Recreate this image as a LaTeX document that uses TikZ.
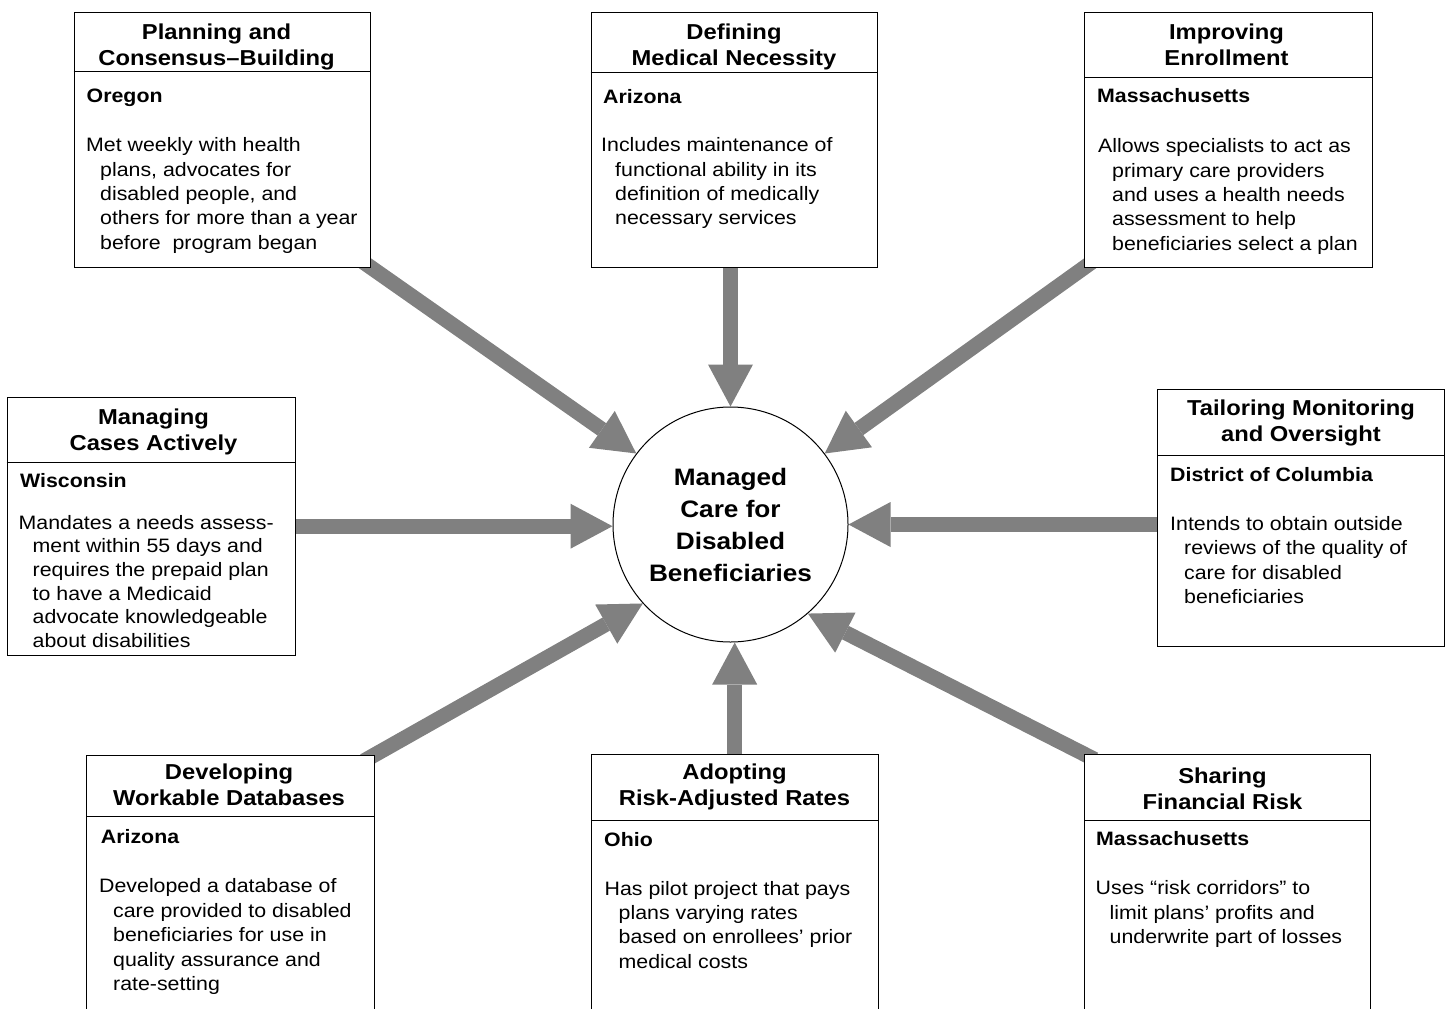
\documentclass[tikz,border=0pt]{standalone}
\usepackage{fontspec}
\setmainfont{Liberation Sans}[FakeStretch=1.1]
\usetikzlibrary{arrows.meta}
\pgfdeclarelayer{back}
\pgfsetlayers{back,main}
\newcommand{\indline}{\hspace*{14pt}}

\tikzset{
  card/.style={draw, line width=1pt, fill=white, anchor=north west, inner sep=0pt},
  opencard/.style={fill=white, anchor=north west, inner sep=0pt},
  divider/.style={line width=1pt},
  heading/.style={anchor=north, inner sep=0pt, align=center, font=\fontsize{21.6}{26.3}\selectfont\bfseries},
  state/.style={anchor=base west, inner sep=0pt, font=\fontsize{19.4}{24.3}\selectfont\bfseries},
  blurb/.style={anchor=north west, inner sep=0pt, align=left, font=\fontsize{19.4}{24.3}\selectfont},
  hub/.style={circle, draw, line width=1pt, fill=white, minimum size=235pt, inner sep=0pt, align=center,
    font=\fontsize{23.8}{32}\selectfont\bfseries},
  feed/.style={draw=black!50, line width=15pt, shorten <=-12pt,
    -{Triangle[length=42pt, width=45pt, line width=0pt]}}
}

\begin{document}
\begin{tikzpicture}[x=1pt, y=-1pt]
        \useasboundingbox (0,0) rectangle (1451,1009);

        \node[hub] (hub) at (730.5,524.5) {Managed\\Care for\\Disabled\\Beneficiaries};

        \node[card, minimum width=296.5pt, minimum height=254.5pt] (plan) at (73.5,12) {};
        \node[heading] (plan-h) at (216.5,20.6) {\strut Planning and\\Consensus--Building};
        \draw[divider] ([yshift=-59pt]plan.north west) -- ([yshift=-59pt]plan.north east);
        \node[state] (plan-s) at (86.5,102.7) {Oregon};
        \node[blurb] (plan-b) at (86,134.7) {\strut Met weekly with health\\\indline plans, advocates for\\
          \indline disabled people, and\\\indline others for more than a year\\\indline before~ program began};

        \node[card, minimum width=286.5pt, minimum height=255pt] (define) at (590.5,12) {};
        \node[heading] (define-h) at (734,20.6) {\strut Defining\\Medical Necessity};
        \draw[divider] ([yshift=-60pt]define.north west) -- ([yshift=-60pt]define.north east);
        \node[state] (define-s) at (603,103) {Arizona};
        \node[blurb] (define-b) at (601,134.5) {\strut Includes maintenance of\\\indline functional ability in its\\
          \indline definition of medically\\\indline necessary services};

        \node[card, minimum width=287.5pt, minimum height=254.7pt] (improve) at (1084,12) {};
        \node[heading] (improve-h) at (1226.5,20.9) {\strut Improving\\Enrollment};
        \draw[divider] ([yshift=-65.7pt]improve.north west) -- ([yshift=-65.7pt]improve.north east);
        \node[state] (improve-s) at (1097,102.7) {Massachusetts};
        \node[blurb] (improve-b) at (1098,135.7) {\strut Allows specialists to act as\\\indline primary care providers\\
          \indline and uses a health needs\\\indline assessment to help\\\indline beneficiaries select a plan};

        \node[card, minimum width=288.5pt, minimum height=258pt] (manage) at (6.5,396.7) {};
        \node[heading] (manage-h) at (153.5,406) {\strut Managing\\Cases Actively};
        \draw[divider] ([yshift=-66pt]manage.north west) -- ([yshift=-66pt]manage.north east);
        \node[state] (manage-s) at (20,487.5) {Wisconsin};
        \node[blurb, font=\fontsize{19.4}{23.6}\selectfont] (manage-b) at (18.5,512.5) {\strut Mandates a needs assess-\\
          \indline ment within 55 days and\\\indline requires the prepaid plan\\\indline to have a Medicaid\\
          \indline advocate knowledgeable\\\indline about disabilities};

        \node[card, minimum width=287pt, minimum height=256.4pt] (tailor) at (1157.3,389.3) {};
        \node[heading] (tailor-h) at (1301,396.6) {\strut Tailoring Monitoring\\and Oversight};
        \draw[divider] ([yshift=-65.7pt]tailor.north west) -- ([yshift=-65.7pt]tailor.north east);
        \node[state] (tailor-s) at (1170,481) {District of Columbia};
        \node[blurb] (tailor-b) at (1170,513.2) {\strut Intends to obtain outside\\\indline reviews of the quality of\\
          \indline care for disabled\\\indline beneficiaries};

        \node[opencard, minimum width=287.3pt, minimum height=254pt] (develop) at (86.7,755) {};
        \draw[divider] (develop.south west) |- (develop.north east) -- (develop.south east);
        \node[heading] (develop-h) at (229,761) {\strut Developing\\Workable Databases};
        \draw[divider] ([yshift=-61pt]develop.north west) -- ([yshift=-61pt]develop.north east);
        \node[state] (develop-s) at (100.7,843) {Arizona};
        \node[blurb, font=\fontsize{19.4}{24.6}\selectfont] (develop-b) at (99,875) {\strut Developed a database of\\\indline care provided to disabled\\
          \indline beneficiaries for use in\\\indline quality assurance and\\\indline rate-setting};

        \node[opencard, minimum width=287pt, minimum height=254.7pt] (adopt) at (591,754.3) {};
        \draw[divider] (adopt.south west) |- (adopt.north east) -- (adopt.south east);
        \node[heading] (adopt-h) at (734.5,760.4) {\strut Adopting\\Risk-Adjusted Rates};
        \draw[divider] ([yshift=-65.7pt]adopt.north west) -- ([yshift=-65.7pt]adopt.north east);
        \node[state] (adopt-s) at (604,846) {Ohio};
        \node[blurb] (adopt-b) at (604.5,878) {\strut Has pilot project that pays\\\indline plans varying rates\\
          \indline based on enrollees’ prior\\\indline medical costs};

        \node[opencard, minimum width=286pt, minimum height=255pt] (share) at (1084,754) {};
        \draw[divider] (share.south west) |- (share.north east) -- (share.south east);
        \node[heading] (share-h) at (1222.5,764.6) {\strut Sharing\\Financial Risk};
        \draw[divider] ([yshift=-66pt]share.north west) -- ([yshift=-66pt]share.north east);
        \node[state] (share-s) at (1096,845.5) {Massachusetts};
        \node[blurb] (share-b) at (1095.5,877.5) {\strut Uses “risk corridors” to\\\indline limit plans’ profits and\\
          \indline underwrite part of losses};

        \begin{pgfonlayer}{back}
        \draw[feed] (plan.south east) -- (hub.143.9);
        \draw[feed] (hub.north |- define.south) -- (hub.north);
        \draw[feed] (improve.south west) -- (hub.37.7);
        \draw[feed] (manage.east) -- (manage.east -| hub.west);
        \draw[feed] (tailor.west |- hub.east) -- (hub.east);
        \draw[feed] (develop.north east) -- (hub.222.6);
        \draw[feed] (adopt.north) -- (adopt.north |- hub.south);
        \draw[feed] (share.north west) -- (hub.311.4);
        \end{pgfonlayer}
\end{tikzpicture}
\end{document}
